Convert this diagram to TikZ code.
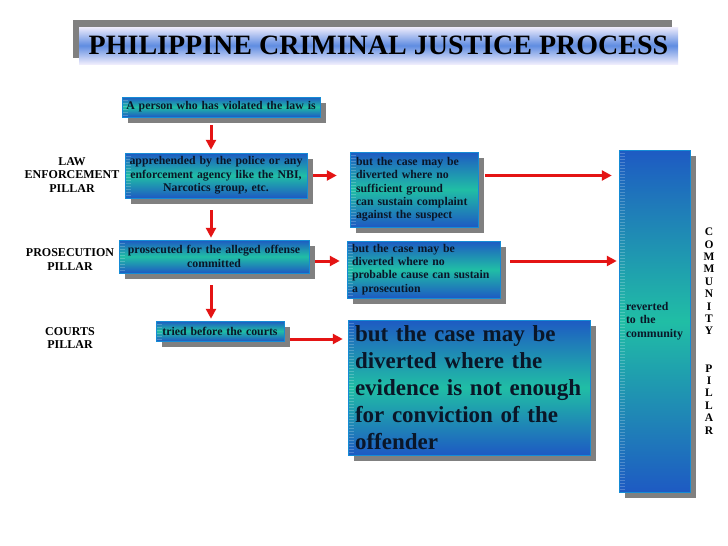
\documentclass[tikz,border=0pt]{standalone}
\usepackage{fontspec}
\setmainfont{Liberation Serif}
\usetikzlibrary{arrows.meta,shadows}
\definecolor{blu}{RGB}{30,90,195}
\definecolor{tea}{RGB}{32,190,165}
\definecolor{ink}{RGB}{10,22,40}
\definecolor{shd}{RGB}{128,128,128}
\definecolor{arrred}{RGB}{228,20,20}
\definecolor{ttop}{RGB}{238,236,252}
\definecolor{tmid}{RGB}{95,140,225}
\begin{document}
\begin{tikzpicture}[x=1pt,y=-1pt,
  box/.style={top color=blu, bottom color=blu, middle color=tea,
    draw=blu!70!cyan, line width=0.5pt, text=ink,
    font=\bfseries\fontsize{11.8}{13.3}\selectfont, inner ysep=1pt,
    drop shadow={shadow xshift=6pt,shadow yshift=-6pt,fill=shd,opacity=1},
    path picture={\foreach \k in {1,...,115}
      \draw[white,opacity=.22,line width=.4pt]
        ([yshift=-\k*3pt]path picture bounding box.north west) -- ++(6pt,0);}},
  arr/.style={draw=arrred, line width=3pt, -{Triangle[length=10pt,width=10pt]}},
  lab/.style={font=\bfseries\fontsize{12}{13.5}\selectfont, align=center, text=black}]
\path[use as bounding box, fill=white] (0,0) rectangle (728,546);

% title
\fill[shd] (73,20) rectangle (672,58);
\node[top color=ttop, bottom color=ttop, middle color=tmid, minimum width=599pt,
  minimum height=37pt, inner sep=0pt, text=black,
  font=\bfseries\fontsize{28}{30}\selectfont] (t) at (378.5,45.5)
  {PHILIPPINE CRIMINAL JUSTICE PROCESS};

% left column
\node[box, minimum width=198pt, minimum height=20pt, text width=198pt, inner xsep=0pt, align=center]
  (b1) at (221,107) {A person who has violated the law is};
\node[box, minimum width=182pt, minimum height=45pt, text width=182pt, inner xsep=0pt, align=center]
  (b2) at (216,175.5) {apprehended by the police or any\\ enforcement agency like the NBI,\\ Narcotics group, etc.};
\node[box, minimum width=190pt, minimum height=33pt, text width=190pt, inner xsep=0pt, align=center]
  (b3) at (214,256.5) {prosecuted for the alleged offense\\ committed};
\node[box, minimum width=128pt, minimum height=20pt, text width=128pt, inner xsep=0pt, align=center]
  (b4) at (220,331) {tried before the courts};

% right boxes
\node[box, minimum width=128pt, minimum height=75pt, text width=116pt, inner xsep=6pt, align=left]
  (b5) at (414,189.5) {but the case may be\\ diverted where no\\ sufficient ground\\ can sustain complaint\\ against the suspect};
\node[box, minimum width=153pt, minimum height=57pt, text width=143pt, inner xsep=5pt, align=left]
  (b6) at (423.5,269.5) {but the case may be\\ diverted where no\\ probable cause can sustain\\ a prosecution};
\node[box, minimum width=242pt, minimum height=135pt, text width=228pt, inner xsep=7pt, align=left,
  font=\bfseries\fontsize{23}{27}\selectfont]
  (b7) at (469,387.5) {but the case may be\\ diverted where the\\ evidence is not enough\\ for conviction of the\\ offender};
\node[box, minimum width=71pt, minimum height=342pt, text width=57pt, inner xsep=7pt, align=left,
  font=\bfseries\fontsize{11.8}{13.5}\selectfont]
  (cm) at (654.5,321) {reverted\\ to the\\ community};

% labels
\node[lab] (l1) at (72,175) {LAW\\ENFORCEMENT\\PILLAR};
\node[lab] (l2) at (70,259.5) {PROSECUTION\\PILLAR};
\node[lab] (l3) at (70,338) {COURTS\\PILLAR};
\node[font=\bfseries\fontsize{11.5}{12.4}\selectfont, align=center, inner sep=0pt] (l4) at (709,331)
  {C\\O\\M\\M\\U\\N\\I\\T\\Y\\\mbox{}\\\mbox{}\\P\\I\\L\\L\\A\\R};

% arrows
\coordinate (ax) at (211,0);
\draw[arr] ([yshift=-8pt]b1.south -| ax) -- ([yshift=3pt]b2.north -| ax);
\draw[arr] ([yshift=-12pt]b2.south -| ax) -- ([yshift=2pt]b3.north -| ax);
\draw[arr] ([yshift=-12pt]b3.south -| ax) -- ([yshift=2pt]b4.north -| ax);
\draw[arr] ([xshift=6pt]b2.east) -- ([xshift=-13pt]b2.east -| b5.west);
\draw[arr] ([xshift=7pt]b2.east -| b5.east) -- ([xshift=-7pt]b2.east -| cm.west);
\draw[arr] ([xshift=6pt,yshift=-4.5pt]b3.east) -- ([xshift=-7pt,yshift=-4.5pt]b3.east -| b6.west);
\draw[arr] ([xshift=10pt,yshift=-4.5pt]b3.east -| b6.east) -- ([xshift=-2pt,yshift=-4.5pt]b3.east -| cm.west);
\draw[arr] ([xshift=6pt,yshift=-8pt]b4.east) -- ([xshift=-5pt,yshift=-8pt]b4.east -| b7.west);
\end{tikzpicture}
\end{document}
